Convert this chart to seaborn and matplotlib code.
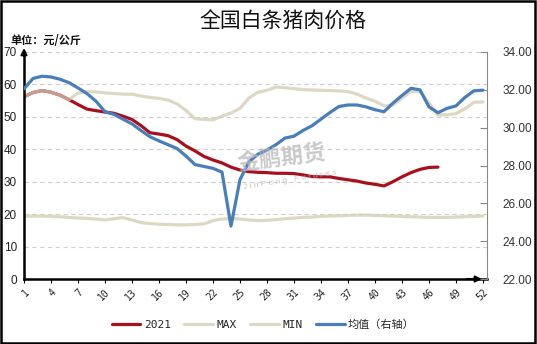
import numpy as np
import pandas as pd
import matplotlib
matplotlib.use("Agg")
import matplotlib.pyplot as plt
import seaborn as sns
from matplotlib.patches import Rectangle

sns.set_theme(style="white")
plt.rcParams['font.family'] = ['Liberation Sans', 'Noto Sans CJK SC', 'DejaVu Sans']

weeks = list(range(1, 53))
xtick_labels = [str(w) for w in range(1, 53, 3)]

y2021 = [56.2, 57.5, 58.1, 57.6, 56.7, 55.3, 53.8, 52.4, 51.9, 51.5,
         51.1, 50.2, 49.2, 47.3, 45.1, 44.7, 44.2, 43.0, 41.0, 39.5,
         37.8, 36.7, 35.8, 34.5, 33.6, 33.1, 32.9, 32.8, 32.6, 32.6,
         32.5, 32.1, 31.6, 31.5, 31.5, 31.0, 30.6, 30.2, 29.6, 29.2,
         28.7, 30.0, 31.5, 32.8, 33.8, 34.4, 34.5]

ymax = [56.2, 57.5, 58.1, 57.6, 56.7, 55.3, 57.3, 57.8, 57.7, 57.4,
        57.2, 57.0, 57.0, 56.4, 56.0, 55.7, 55.2, 54.0, 52.0, 49.4,
        49.2, 49.1, 50.2, 51.2, 52.6, 55.8, 57.6, 58.2, 59.2, 59.0,
        58.7, 58.4, 58.3, 58.2, 58.1, 58.0, 57.8, 57.0, 55.8, 54.8,
        53.4, 53.6, 55.8, 57.8, 57.8, 54.2, 50.6, 50.6, 51.0, 52.5,
        54.5, 54.6]

ymin = [19.4, 19.4, 19.4, 19.3, 19.2, 19.0, 18.8, 18.7, 18.5, 18.2,
        18.6, 18.9, 18.2, 17.4, 17.1, 16.9, 16.8, 16.7, 16.7, 16.8,
        17.0, 18.0, 18.5, 18.7, 18.5, 18.2, 18.0, 18.1, 18.3, 18.6,
        18.8, 19.0, 19.1, 19.3, 19.4, 19.5, 19.6, 19.7, 19.7, 19.6,
        19.5, 19.4, 19.3, 19.2, 19.1, 19.0, 19.0, 19.0, 19.1, 19.2,
        19.3, 19.4]

ymean = [32.05, 32.60, 32.72, 32.68, 32.56, 32.38, 32.10, 31.80, 31.40, 30.84,
         30.70, 30.45, 30.20, 29.85, 29.52, 29.30, 29.10, 28.90, 28.50, 28.05,
         27.95, 27.85, 27.65, 24.80, 27.25, 28.20, 28.60, 28.82, 29.10, 29.45,
         29.55, 29.85, 30.10, 30.45, 30.80, 31.12, 31.20, 31.20, 31.10, 30.95,
         30.84, 31.30, 31.70, 32.08, 32.00, 31.10, 30.79, 31.02, 31.15, 31.60,
         31.95, 31.98]

df21 = pd.DataFrame({"week": weeks[:len(y2021)], "v": y2021})
dfmax = pd.DataFrame({"week": weeks, "v": ymax})
dfmin = pd.DataFrame({"week": weeks, "v": ymin})
dfmean = pd.DataFrame({"week": weeks, "v": ymean})

W, H = 537, 344
fig = plt.figure(figsize=(W / 100, H / 100), dpi=100)
ax = fig.add_axes([24 / W, 1 - 279 / H, (487 - 24) / W, (279 - 52) / H])
ax2 = ax.twinx()

c_red = "#A8101E"
c_beige = "#D2CCAF"
c_blue = "#4A7EBB"
lw = 2.3

sns.lineplot(data=df21, x="week", y="v", ax=ax, color=c_red, lw=lw, label="2021", legend=False)
sns.lineplot(data=dfmax, x="week", y="v", ax=ax, color=c_beige, lw=lw, alpha=0.75, label="MAX", legend=False)
sns.lineplot(data=dfmin, x="week", y="v", ax=ax, color=c_beige, lw=lw, alpha=0.75, label="MIN", legend=False)
sns.lineplot(data=dfmean, x="week", y="v", ax=ax2, color=c_blue, lw=lw, label="均值（右轴）", legend=False)

ax.set_xlim(1, 52.45)
ax.set_ylim(0, 70)
ax2.set_ylim(22, 34)
ax.set_xlabel("")
ax.set_ylabel("")
ax2.set_ylabel("")

ax.set_yticks(range(0, 71, 10))
ax.set_yticklabels([str(v) for v in range(0, 71, 10)], fontsize=8.5, color="#222222")
ax.tick_params(axis="y", length=0, pad=5)
ax.set_xticks(range(1, 53, 3))
ax.set_xticklabels(xtick_labels, rotation=45, ha="right", rotation_mode="anchor",
                   fontsize=7, color="#222222", family=["DejaVu Sans Mono", "DejaVu Sans"])
ax.tick_params(axis="x", length=3, width=0.8, color="black", direction="out", pad=3)
ax.xaxis.set_ticks_position("bottom")

ax2.set_yticks(np.arange(22, 35, 2))
ax2.set_yticklabels([f"{v:.2f}" for v in np.arange(22, 35, 2)], fontsize=8.5, color="#333333")
ax2.tick_params(axis="y", length=5, width=0.8, color="#888888", direction="in", pad=11)

for y in range(10, 71, 10):
    ax.axhline(y, color="#D0D0D0", lw=0.8, ls=(0, (4, 3)), zorder=0)

for s in ["top", "right"]:
    ax.spines[s].set_visible(False)
ax.spines["left"].set_color("black")
ax.spines["left"].set_linewidth(1.8)
ax.spines["bottom"].set_color("black")
ax.spines["bottom"].set_linewidth(1.8)
for s in ["top", "left", "bottom"]:
    ax2.spines[s].set_visible(False)
ax2.spines["right"].set_color("#888888")
ax2.spines["right"].set_linewidth(0.8)
ax.patch.set_visible(False)

# arrow heads on axes
ax.annotate("", xy=(0, 1.03), xytext=(0, 0.97), xycoords="axes fraction",
            arrowprops=dict(arrowstyle="-|>", color="black", lw=1.5, mutation_scale=9), annotation_clip=False)
ax.annotate("", xy=(0.995, 0), xytext=(0.95, 0), xycoords="axes fraction",
            arrowprops=dict(arrowstyle="-|>", color="black", lw=1.5, mutation_scale=9), annotation_clip=False)

# watermark
fig.text(282 / W, 1 - 158 / H, "金鹏期货", fontsize=16, color="#B8B8B8", alpha=0.75,
         rotation=7, ha="center", va="center", family=["Noto Sans CJK SC"], fontweight="bold", zorder=0)
fig.text(290 / W, 1 - 180 / H, "J i n P e n g   F u t u r e s", fontsize=6, color="#B8B8B8", alpha=0.8,
         rotation=9, ha="center", va="center", zorder=0)

fig.text(283 / W, 1 - 22 / H, "全国白条猪肉价格", fontsize=15, ha="center", va="center",
         family=["Noto Sans CJK SC"], color="#111111")
fig.text(10 / W, 1 - 40 / H, "单位：元/公斤", fontsize=8, ha="left", va="center",
         family=["Noto Sans CJK SC"], fontweight="bold", color="#111111")

h1, l1 = ax.get_legend_handles_labels()
h2, l2 = ax2.get_legend_handles_labels()
leg = fig.legend(h1 + h2, l1 + l2, loc="center", bbox_to_anchor=(0.49, 1 - 325 / H), ncol=4,
                 frameon=False, fontsize=8, handlelength=2.6, columnspacing=1.2, handletextpad=0.3,
                 prop={"family": ["DejaVu Sans Mono", "Noto Sans CJK SC"], "size": 8})

fig.patches.append(Rectangle((0.002, 0.003), 0.995, 0.994, transform=fig.transFigure,
                             fill=False, ec="black", lw=1.8))

fig.savefig("out.png", dpi=100)
